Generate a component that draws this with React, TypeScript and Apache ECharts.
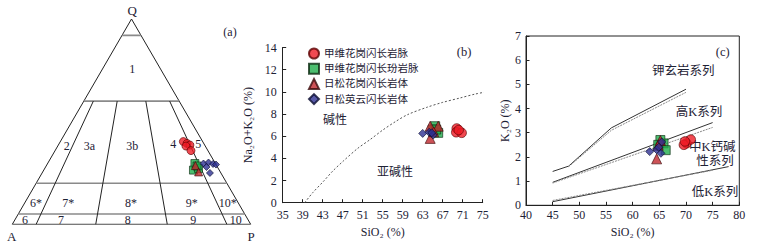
import React, { useEffect, useRef } from "react";
import * as echarts from "echarts";

// ---------- data ----------
const groupNames = ["甲维花岗闪长岩脉", "甲维花岗闪长玢岩脉", "日松花岗闪长岩体", "日松英云闪长岩体"];
const groupSymbols = ["circle", "rect", "triangle", "diamond"];
const groupColors = ["#ee1c25", "#1fae4b", "#c1272d", "#2e3192"];
const groupBorders = ["#5a0000", "#0d2a12", "#3a0a0a", "#0a0c30"];

// QAP (Q, A, P in %)
const qapCircles = [[40.3, 8.1, 51.6], [39.4, 7.0, 53.6], [38.6, 6.2, 55.2], [38.1, 8.1, 53.8], [35.9, 7.1, 57.0]];
const qapSquares = [[29.6, 8.6, 61.8], [26.4, 10.8, 62.8], [27.2, 8.3, 64.5], [28.4, 8.3, 63.3]];
const qapTriangles = [[28.6, 8.9, 62.5], [25.5, 9.1, 65.4]];
const qapDiamonds = [[29.6, 5.0, 65.4], [30.1, 2.65, 67.25], [29.4, 1.1, 69.5], [29.1, 0, 70.9], [25.0, 4.6, 70.4], [27.9, 4.6, 67.5]];

// QAP field boundaries
const qLevels = [92, 60, 20, 5]; // horizontal Q lines
const pRatios = [10, 35, 65, 90]; // P/(A+P) % radial lines from Q=60 to Q=0

// TAS (SiO2, Na2O+K2O)
const tasCircles = [[69.8, 6.7], [69.7, 6.35], [70.8, 6.3], [70.2, 6.55]];
const tasSquares = [[65.5, 6.9], [66.1, 6.3], [65.0, 6.6], [65.7, 6.6]];
const tasTriangles = [[64.5, 6.9], [66.1, 6.9], [64.5, 5.8], [65.2, 6.4]];
const tasDiamonds = [[63.0, 6.25], [64.3, 6.35], [65.1, 6.1], [64.8, 6.3]];
const alkalineLine = [[39.4, 0], [41, 0.9], [43.1, 1.9], [45, 2.85], [47.1, 3.75], [50, 4.9], [52.5, 5.7], [55, 6.55], [57.5, 7.3], [60, 7.95], [63.8, 8.6], [67, 9.05], [70.5, 9.45], [73.5, 9.8], [77, 10.1]];

// SiO2 - K2O
const kCircles = [[70.1, 2.56], [70.9, 2.72], [69.6, 2.5], [69.8, 2.64]];
const kSquares = [[65.8, 2.56], [66.2, 2.28], [65.2, 2.7], [64.8, 2.5]];
const kTriangles = [[65.2, 2.68], [64.5, 1.92], [64.8, 2.48]];
const kDiamonds = [[63.2, 2.22], [65.45, 2.62], [65.3, 2.15], [64.5, 2.3], [64.9, 2.4]];
const shoshSolid = [[45, 1.4], [48, 1.62], [56, 3.2], [70, 4.8]];
const shoshDashed = [[48, 1.6], [56, 3.1], [70, 4.67]];
const highKSolid = [[45, 0.95], [75, 3.42]];
const highKDashed = [[45, 0.92], [75, 3.22]];
const lowKSolid = [[45, 0.15], [78, 1.6]];
const lowKDashed = [[45, 0.2], [75, 1.45]];

const tasXTicks = { min: 35, max: 75, interval: 4 };
const tasYTicks = { min: 0, max: 14, interval: 2 };
const kXTicks = { min: 40, max: 80, interval: 5 };
const kYTicks = { min: 0, max: 7, interval: 1 };

// ---------- helpers ----------
const H = Math.sqrt(3) / 2;
function tern(q: number, a: number, p: number): number[] {
  const t = q + a + p;
  return [(p + q / 2) / t, (q / t) * H];
}
const FONT = "'Liberation Serif', 'Noto Sans CJK SC', serif";
const TXT = "#1e2235";

function txt(text: string, x: number, y: number, size = 12, extra: any = {}) {
  return {
    type: "text",
    x,
    y,
    silent: true,
    style: {
      text,
      fill: TXT,
      font: `${size}px ${FONT}`,
      align: "center",
      verticalAlign: "middle",
      ...extra,
    },
  };
}

export default function App() {
  const ref = useRef<HTMLDivElement>(null);
  useEffect(() => {
    if (!ref.current) return;
    const chart = echarts.init(ref.current, undefined, { renderer: "svg" });

    const qapGroups = [qapCircles, qapSquares, qapTriangles, qapDiamonds];
    const tasGroups = [tasCircles, tasSquares, tasTriangles, tasDiamonds];
    const kGroups = [kCircles, kSquares, kTriangles, kDiamonds];

    const lineSeries = (data: number[][], gi: number, color: string, width: number, type: any = "solid", extra: any = {}) => ({
      type: "line",
      xAxisIndex: gi,
      yAxisIndex: gi,
      data,
      symbol: "none",
      silent: true,
      lineStyle: { color, width, type },
      z: 1,
      ...extra,
    });

    const series: any[] = [];
    // triangle outline
    series.push(lineSeries([tern(0, 100, 0), tern(0, 0, 100), tern(100, 0, 0), tern(0, 100, 0)], 0, "#222", 1));
    qLevels.forEach((q) => {
      series.push(lineSeries([tern(q, 100 - q, 0), tern(q, 0, 100 - q)], 0, "#8a8a8a", 1.6));
    });
    pRatios.forEach((r) => {
      const top = tern(60, 40 * (1 - r / 100), 40 * (r / 100));
      const bot = tern(0, 100 - r, r);
      series.push(lineSeries([top, bot], 0, "#222", 1));
    });
    // TAS curve
    series.push(lineSeries(alkalineLine, 1, "#555", 1, [2, 2], { smooth: 0.3, clip: false }));
    // K2O lines
    [shoshSolid, highKSolid, lowKSolid].forEach((d) => series.push(lineSeries(d, 2, "#333", 1)));
    [shoshDashed, highKDashed, lowKDashed].forEach((d) => series.push(lineSeries(d, 2, "#8a8a8a", 1, [2, 1])));

    const sizesA = [8, 8, 8, 7];
    const sizesB = [9.5, 9, 10, 8];
    const sizesC = [9.5, 9, 10, 8];
    groupNames.forEach((name, i) => {
      const itemStyle = { color: groupColors[i], borderColor: groupBorders[i], borderWidth: 0.8 };
      series.push({
        type: "scatter", name, xAxisIndex: 0, yAxisIndex: 0,
        data: qapGroups[i].map((d) => tern(d[0], d[1], d[2])),
        symbol: groupSymbols[i], symbolSize: sizesA[i], itemStyle, z: 3 + i,
      });
      series.push({
        type: "scatter", name, xAxisIndex: 1, yAxisIndex: 1,
        data: tasGroups[i], symbol: groupSymbols[i], symbolSize: sizesB[i], itemStyle, z: 3 + i,
      });
      series.push({
        type: "scatter", name, xAxisIndex: 2, yAxisIndex: 2,
        data: kGroups[i], symbol: groupSymbols[i], symbolSize: sizesC[i], itemStyle, z: 3 + i,
      });
    });

    const axisCommon = {
      axisLine: { show: true, onZero: false, lineStyle: { color: "#222", width: 1 } },
      axisTick: { show: true, inside: true, length: 3.5, lineStyle: { color: "#222" } },
      splitLine: { show: false },
      axisLabel: { fontFamily: FONT, fontSize: 12, color: TXT, margin: 6 },
      nameTextStyle: { fontFamily: FONT, fontSize: 12, color: TXT },
    };

    chart.setOption({
      animation: false,
      backgroundColor: "#fff",
      grid: [
        { left: 12.3, top: 19, width: 238.4, height: 205.3 },
        { left: 282.7, top: 47.5, width: 200, height: 155.2 },
        { left: 526, top: 36, width: 213.3, height: 169.3, show: true, borderColor: "#222", borderWidth: 1 },
      ],
      xAxis: [
        { type: "value", gridIndex: 0, min: 0, max: 1, show: false },
        {
          type: "value", gridIndex: 1, ...tasXTicks, ...axisCommon,
          name: "SiO₂ (%)", nameLocation: "middle", nameGap: 23,
        },
        {
          type: "value", gridIndex: 2, ...kXTicks, ...axisCommon,
          axisLabel: { ...axisCommon.axisLabel, margin: 4 },
          name: "SiO₂ (%)", nameLocation: "middle", nameGap: 20,
        },
      ],
      yAxis: [
        { type: "value", gridIndex: 0, min: 0, max: H, show: false },
        {
          type: "value", gridIndex: 1, ...tasYTicks, ...axisCommon,
          name: "Na₂O+K₂O (%)", nameLocation: "middle", nameRotate: 90, nameGap: 29,
        },
        {
          type: "value", gridIndex: 2, ...kYTicks, ...axisCommon,
          axisLabel: { ...axisCommon.axisLabel, margin: 5 },
          name: "K₂O (%)", nameLocation: "middle", nameRotate: 90, nameGap: 13,
        },
      ],
      legend: {
        left: 308,
        top: 47.5,
        padding: 0,
        orient: "vertical",
        itemWidth: 10,
        itemHeight: 10,
        itemGap: 3.2,
        data: groupNames.map((n, i) => ({ name: n, icon: groupSymbols[i] })),
        textStyle: { fontFamily: FONT, fontSize: 10.5, lineHeight: 11, color: TXT },
      },
      series,
      graphic: [
        txt("Q", 132.3, 10, 13),
        txt("A", 11.7, 236.7, 13),
        txt("P", 251, 236.7, 13),
        txt("(a)", 230, 31.7, 12),
        txt("1", 132.3, 69.3),
        txt("2", 66.7, 146),
        txt("3a", 89.3, 146),
        txt("3b", 132.3, 146),
        txt("4", 173.3, 144),
        txt("5", 198.3, 144),
        txt("6*", 36, 203.3),
        txt("7*", 68.3, 203.3),
        txt("8*", 131, 203.3),
        txt("9*", 191.7, 203.3),
        txt("10*", 227.7, 203.3),
        txt("6", 25, 220),
        txt("7", 61, 220),
        txt("8", 127.7, 220),
        txt("9", 193.3, 220),
        txt("10", 235.7, 220),
        txt("(b)", 464, 52, 12.5),
        txt("碱性", 335, 120, 12),
        txt("亚碱性", 395, 172, 12),
        txt("(c)", 722.7, 52.3, 12.5),
        txt("钾玄岩系列", 683.3, 70.7, 12.5),
        txt("高K系列", 699, 111.7, 12.5),
        txt("中K钙碱", 712.3, 147.2, 12.5),
        txt("性系列", 715, 161.2, 12.5),
        txt("低K系列", 715, 192.3, 12.5),
      ],
    });
    return () => chart.dispose();
  }, []);
  return <div ref={ref} style={{ position: "absolute", left: 0, top: 0, width: 766, height: 248 }} />;
}
